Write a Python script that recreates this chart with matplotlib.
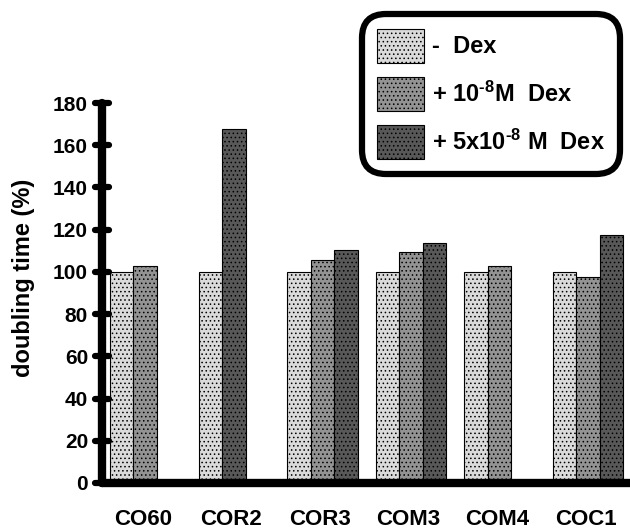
import numpy as np
import matplotlib
matplotlib.use('Agg')
import matplotlib.pyplot as plt
from matplotlib.markers import MarkerStyle

# Data (doubling time, % of untreated)
cell_lines = ['CO60', 'COR2', 'COR3', 'COM3', 'COM4', 'COC1']
no_dex = [100, 100, 100, 100, 100, 100]
dex_low = [102.7, None, 105.6, 109.2, 102.7, 97.5]
dex_high = [None, 167.8, 110.6, 113.9, None, 117.4]
series_labels = ['-  Dex', '+ 10$^{\\text{-8}}$M  Dex', '+ 5x10$^{\\text{-8}}$ M  Dex']
yticks = [0, 20, 40, 60, 80, 100, 120, 140, 160, 180]

plt.rcParams['font.family'] = 'Liberation Sans'
plt.rcParams['font.weight'] = 'bold'
plt.rcParams['mathtext.fontset'] = 'custom'
plt.rcParams['mathtext.rm'] = 'Liberation Sans:bold'
plt.rcParams['mathtext.default'] = 'rm'
plt.rcParams['hatch.linewidth'] = 0.6

fig = plt.figure(figsize=(6.30, 5.29), dpi=100)
ax = fig.add_axes([102 / 630, 46 / 529, 528 / 630, 380 / 529])

# halftone-ish fills: grey + dot hatch
styles = [
    dict(facecolor='#dadada', hatch='....'),
    dict(facecolor='#939393', hatch='....'),
    dict(facecolor='#585858', hatch='....'),
]
width = 0.265

# bars are packed side by side within each group
handles = [None, None, None]
for i in range(len(cell_lines)):
    slot = 0
    for k, vals in enumerate([no_dex, dex_low, dex_high]):
        v = vals[i]
        if v is None:
            continue
        b = ax.bar(i + slot * width, v, width, align='edge', edgecolor='black',
                   linewidth=0.8, **styles[k])
        handles[k] = b
        slot += 1

ax.set_xlim(-0.09, 5.87)
ax.set_ylim(0, 180)
ax.set_yticks(yticks)
ax.set_xticks(np.arange(len(cell_lines)) + 1.4 * width)
ax.set_xticklabels(cell_lines, fontsize=16, fontweight='bold')
ax.tick_params(axis='x', length=0, pad=19)
ax.tick_params(axis='y', direction='inout', length=10, width=4.5, labelsize=15, pad=5)
for t in ax.yaxis.get_major_ticks():
    t.tick1line.set_marker(MarkerStyle('_', capstyle='round'))
    t.tick1line.set_markersize(10)
    t.tick1line.set_markeredgewidth(4.5)

for side in ['top', 'right']:
    ax.spines[side].set_visible(False)
for side in ['left', 'bottom']:
    ax.spines[side].set_linewidth(6)
    ax.spines[side].set_capstyle('round')

ax.set_ylabel('doubling time (%)', fontsize=17, fontweight='bold')
ax.yaxis.set_label_coords(-0.127, 0.54)

leg = fig.legend(handles, series_labels, loc='upper right',
                 bbox_to_anchor=(620 / 630, 1 - 14 / 529), borderaxespad=0,
                 fontsize=17, handlelength=2.0, handleheight=1.84,
                 handletextpad=0.35, labelspacing=0.6, borderpad=0.62,
                 fancybox=True, edgecolor='black', framealpha=1)
frame = leg.get_frame()
frame.set_linewidth(4.5)
frame.set_boxstyle('round', pad=0.0, rounding_size=1.0)

fig.savefig('out.png', dpi=100)
